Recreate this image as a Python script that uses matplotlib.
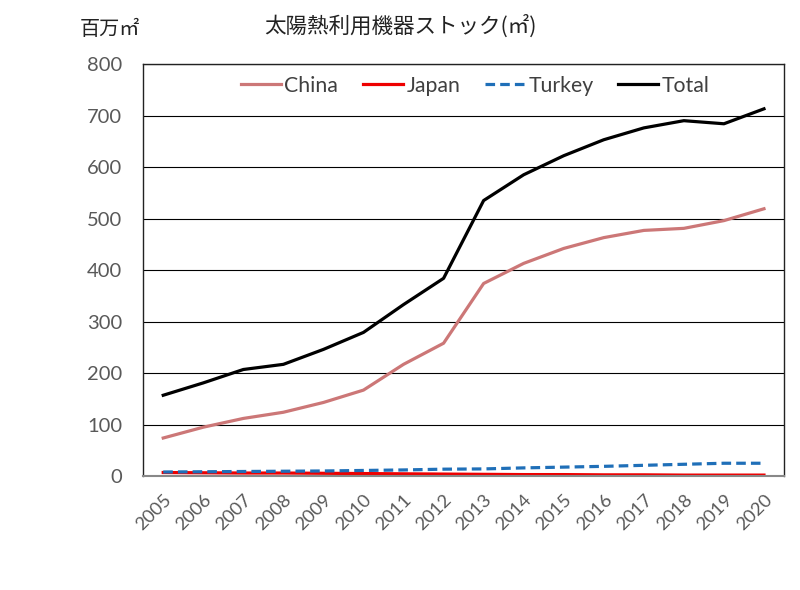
import matplotlib
matplotlib.use("Agg")
import matplotlib.pyplot as plt

plt.rcParams['font.family'] = ['Lato', 'Noto Sans CJK JP', 'DejaVu Sans']

years = ['2005', '2006', '2007', '2008', '2009', '2010', '2011', '2012',
         '2013', '2014', '2015', '2016', '2017', '2018', '2019', '2020']
china = [74, 95, 112, 124, 143, 167, 217, 258, 374, 413, 442, 463, 477, 481, 496, 519]
japan = [7, 6.5, 6, 6, 5.5, 5, 4.5, 4, 3.5, 3, 3, 2.5, 2.5, 2, 2, 2]
turkey = [8, 8.5, 9, 9.5, 10, 11, 12, 13.5, 14, 16, 17.5, 19, 21, 23, 25, 25]
total = [157, 181, 207, 217, 246, 279, 333, 384, 535, 585, 622, 653, 676, 690, 684, 713]

fig = plt.figure(figsize=(8, 5.9), dpi=100)
ax = fig.add_axes([0.179, 0.193, 0.801, 0.6985])

x = list(range(len(years)))
ax.plot(x, china, color='#CC7777', lw=2.3, label='China')
ax.plot(x, japan, color='#EE0000', lw=2.3, label='Japan')
ax.plot(x, turkey, color='#1F6FB8', lw=2.3, ls=(0, (3, 1.6)), label='Turkey')
ax.plot(x, total, color='black', lw=2.3, label='Total')

ax.set_xlim(-0.5, len(years) - 0.5)
ax.set_ylim(0, 800)
ax.set_yticks(range(0, 801, 100))
ax.set_xticks(x)
ax.set_xticklabels(years, rotation=45, ha='right', rotation_mode='anchor')
ax.tick_params(axis='y', length=0, labelsize=14.5, colors='#595959', pad=15)
ax.tick_params(axis='x', length=0, labelsize=13.3, colors='#595959', pad=11)
ax.yaxis.grid(True, color='black', lw=0.8)
ax.set_axisbelow(True)
for s in ['left', 'top', 'right']:
    ax.spines[s].set_color('#222222')
    ax.spines[s].set_linewidth(1.0)
ax.spines['bottom'].set_color('#888888')
ax.spines['bottom'].set_linewidth(1.5)

leg = ax.legend(loc='upper center', ncol=4, frameon=False, fontsize=15.3,
                handlelength=1.9, handletextpad=0.15, columnspacing=1.15,
                bbox_to_anchor=(0.518, 1.018))
for t in leg.get_texts():
    t.set_color('#404040')

fig.text(0.5, 0.955, '太陽熱利用機器ストック(㎡)', ha='center', va='center',
         fontsize=15.5, family=['Noto Sans CJK JP', 'DejaVu Sans'], color='#222222')
fig.text(0.1, 0.95, '百万㎡', ha='left', va='center',
         fontsize=14.5, family=['Noto Sans CJK JP', 'DejaVu Sans'], color='#222222')

fig.savefig('out.png', dpi=100)
